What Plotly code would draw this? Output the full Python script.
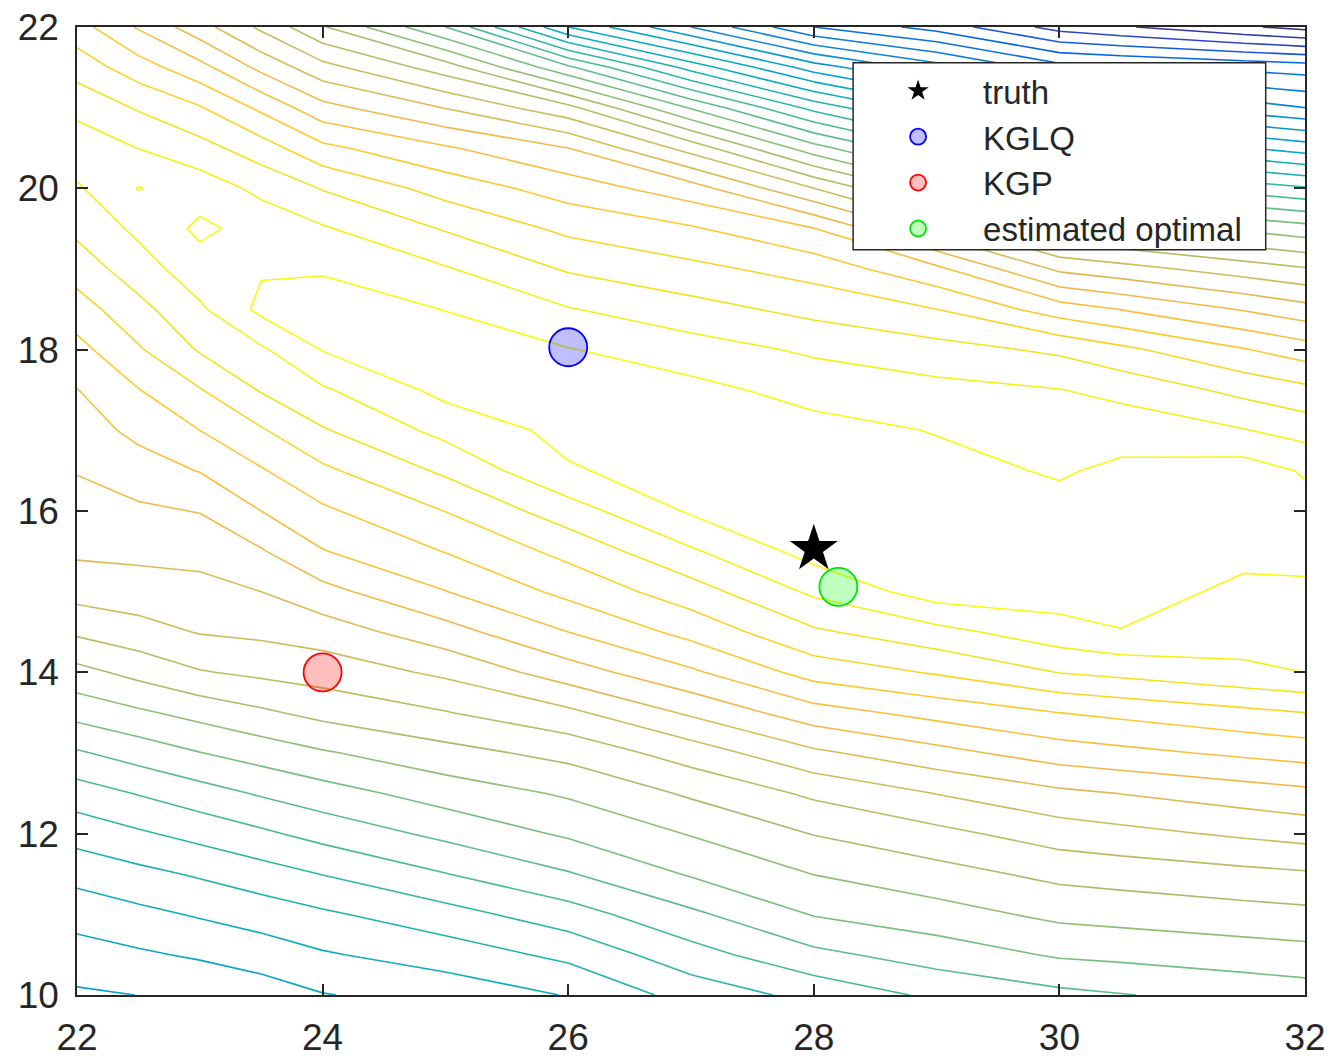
import numpy as np
import plotly.graph_objects as go

# Grid on which the objective surface was sampled
x_grid = [22, 22.5, 23, 23.5, 24, 25, 26, 27, 28, 29, 30, 30.5, 31.5, 32]
y_grid = [10 + 0.5 * i for i in range(25)]

# Objective value at each y_grid row, one list per x_grid column
z_x22 = [10.85, 11.59, 12.39, 13.33, 14.40, 15.53, 16.88, 18.35, 19.68, 21.17,
         22.39, 23.17, 23.61, 24.05, 24.51, 24.97, 25.68, 26.54, 27.45, 28.23,
         28.87, 29.60, 28.71, 27.57, 26.40]
z_x22h = [11.01, 11.86, 12.75, 13.73, 14.86, 16.06, 17.43, 18.84, 20.31, 21.62,
          22.54, 23.25, 23.83, 24.55, 25.26, 25.96, 26.89, 27.69, 28.53, 29.22,
          30.04, 28.98, 27.90, 26.45, 24.90]
z_x23 = [11.17, 12.13, 13.10, 14.12, 15.32, 16.59, 17.97, 19.33, 20.93, 22.06,
         22.68, 23.33, 24.04, 25.04, 26.00, 26.94, 28.10, 28.83, 29.60, 30.20,
         29.55, 28.36, 27.08, 25.33, 23.40]
z_x23h = [11.49, 12.47, 13.46, 14.56, 15.82, 17.11, 18.43, 19.83, 21.21, 22.21,
          23.00, 23.91, 25.00, 25.91, 26.90, 28.08, 28.85, 30.25, 29.90, 29.64,
          28.75, 27.46, 25.79, 23.73, 21.80]
z_x24 = [11.95, 12.90, 13.84, 15.03, 16.34, 17.58, 18.89, 20.30, 21.44, 22.48,
         23.68, 24.95, 25.83, 26.80, 27.91, 28.87, 30.05, 30.40, 29.92, 29.11,
         27.94, 26.24, 24.32, 22.33, 20.10]
z_x25 = [12.40, 13.45, 14.62, 15.97, 17.25, 18.45, 19.65, 20.95, 22.19, 23.60,
         24.97, 26.04, 27.02, 28.18, 29.31, 30.30, 30.40, 29.98, 29.09, 27.92,
         26.59, 25.12, 22.96, 20.50, 17.00]
z_x26 = [13.05, 14.25, 15.56, 16.92, 18.15, 19.13, 20.31, 21.78, 23.52, 25.00,
         26.27, 27.30, 28.54, 29.90, 30.30, 30.45, 30.05, 29.06, 27.89, 26.77,
         25.54, 24.00, 21.30, 17.20, 12.00]
z_x27 = [14.40, 15.60, 16.80, 18.10, 19.06, 20.15, 21.47, 23.16, 24.83, 26.32,
         27.55, 28.86, 30.13, 30.45, 30.45, 30.30, 29.44, 28.37, 27.26, 26.12,
         24.44, 21.60, 17.90, 13.60, 9.00]
z_x28 = [15.30, 16.75, 18.06, 19.02, 20.04, 21.19, 22.80, 24.58, 26.41, 27.84,
         29.19, 30.40, 30.50, 30.50, 30.35, 29.63, 28.84, 27.70, 26.60, 25.04,
         22.00, 18.40, 14.67, 10.50, 6.00]
z_x29 = [16.20, 17.45, 18.60, 19.62, 20.72, 22.03, 23.67, 25.34, 27.10, 28.67,
         30.50, 30.50, 30.45, 30.30, 29.95, 29.30, 28.37, 27.00, 25.23, 22.47,
         19.29, 15.86, 12.23, 8.43, 4.60]
z_x30 = [16.75, 18.12, 19.24, 20.27, 21.48, 22.78, 24.50, 26.00, 28.03, 29.60,
         30.50, 30.40, 30.30, 29.90, 29.46, 29.03, 27.82, 25.50, 22.81, 20.06,
         16.93, 13.60, 9.92, 6.38, 2.60]
z_x30h = [16.95, 18.25, 19.37, 20.42, 21.71, 23.02, 24.73, 26.25, 28.27, 29.95,
          30.50, 30.50, 30.45, 30.20, 29.60, 28.70, 27.24, 24.97, 22.38, 19.65,
          16.48, 13.09, 9.44, 6.17, 2.12]
z_x31h = [17.35, 18.51, 19.62, 20.73, 22.16, 23.50, 25.19, 26.75, 28.77, 29.49,
          29.75, 30.30, 30.50, 30.49, 29.05, 27.71, 26.07, 23.92, 21.53, 18.83,
          15.57, 12.06, 8.48, 5.75, 1.15]
z_x32 = [17.53, 18.64, 19.74, 20.88, 22.38, 23.73, 25.41, 27.00, 29.01, 29.45,
         29.85, 30.25, 30.35, 29.90, 28.61, 27.26, 25.48, 23.38, 21.10, 18.41,
         15.12, 11.54, 8.00, 5.53, 0.67]

# Marked locations
truth_x, truth_y = [28.0], [15.53]
kglq_x, kglq_y = [26.0], [18.03]
kgp_x, kgp_y = [24.0], [14.0]
est_x, est_y = [28.2], [15.06]

z = np.column_stack([z_x22, z_x22h, z_x23, z_x23h, z_x24, z_x25, z_x26, z_x27,
                     z_x28, z_x29, z_x30, z_x30h, z_x31h, z_x32])

# MATLAB parula colormap (sampled)
parula = [
    [0.2081, 0.1663, 0.5292], [0.2123, 0.2138, 0.6270], [0.1959, 0.2645, 0.7279],
    [0.1253, 0.3242, 0.8303], [0.0117, 0.3875, 0.8820], [0.0165, 0.4266, 0.8786],
    [0.0498, 0.4586, 0.8641], [0.0723, 0.4887, 0.8467], [0.0793, 0.5200, 0.8312],
    [0.0641, 0.5570, 0.8240], [0.0343, 0.5966, 0.8199], [0.0239, 0.6287, 0.8038],
    [0.0228, 0.6535, 0.7768], [0.0384, 0.6743, 0.7436], [0.0843, 0.6928, 0.7062],
    [0.1453, 0.7098, 0.6646], [0.2178, 0.7250, 0.6193], [0.3022, 0.7376, 0.5712],
    [0.3953, 0.7459, 0.5244], [0.4871, 0.7491, 0.4840], [0.5709, 0.7485, 0.4494],
    [0.6473, 0.7456, 0.4188], [0.7184, 0.7411, 0.3905], [0.7858, 0.7356, 0.3633],
    [0.8507, 0.7299, 0.3360], [0.9139, 0.7258, 0.3063], [0.9739, 0.7314, 0.2666],
    [0.9990, 0.7653, 0.2164], [0.9880, 0.8066, 0.1794], [0.9697, 0.8481, 0.1475],
    [0.9589, 0.8949, 0.1132], [0.9661, 0.9514, 0.0755], [0.9763, 0.9831, 0.0538],
]
n = len(parula)
colorscale = [[i / (n - 1), "rgb(%d,%d,%d)" % tuple(int(round(c * 255)) for c in rgb)]
              for i, rgb in enumerate(parula)]

fig = go.Figure()

fig.add_trace(go.Contour(
    x=x_grid, y=y_grid, z=z,
    contours=dict(coloring="lines", start=1, end=30, size=1),
    line=dict(width=1.6, smoothing=0),
    colorscale=colorscale,
    showscale=False,
    showlegend=False,
    hoverinfo="skip",
))

fig.add_trace(go.Scatter(
    x=truth_x, y=truth_y, mode="markers", name="truth",
    marker=dict(symbol="star", size=36, color="black", line=dict(width=0)),
))
fig.add_trace(go.Scatter(
    x=kglq_x, y=kglq_y, mode="markers", name="KGLQ",
    marker=dict(symbol="circle", size=38, color="rgba(0,0,255,0.25)",
                line=dict(color="rgb(0,0,255)", width=1.8)),
))
fig.add_trace(go.Scatter(
    x=kgp_x, y=kgp_y, mode="markers", name="KGP",
    marker=dict(symbol="circle", size=38, color="rgba(255,0,0,0.25)",
                line=dict(color="rgb(255,0,0)", width=1.8)),
))
fig.add_trace(go.Scatter(
    x=est_x, y=est_y, mode="markers", name="estimated optimal",
    marker=dict(symbol="circle", size=38, color="rgba(0,255,0,0.25)",
                line=dict(color="rgb(0,230,0)", width=1.8)),
))

axis_style = dict(
    showgrid=False, zeroline=False, automargin=False,
    showline=True, mirror="ticks", linecolor="#262626", linewidth=1.5,
    ticks="inside", ticklen=11, tickwidth=1.5, tickcolor="#262626",
    ticklabelstandoff=9,
    tickfont=dict(family="Liberation Sans, Arial, sans-serif", size=37, color="#262626"),
)

fig.update_xaxes(range=[22, 32], tick0=22, dtick=2, **axis_style)
fig.update_yaxes(range=[10, 22], tick0=10, dtick=2, **axis_style)

# White legend panel with a dark frame
fig.add_shape(
    type="rect", xref="paper", yref="paper",
    x0=0.632, x1=0.968, y0=0.770, y1=0.963,
    fillcolor="white", line=dict(color="#262626", width=1.5), layer="above",
)

fig.update_layout(
    width=1331, height=1059,
    margin=dict(l=77, r=26, t=27, b=64),
    paper_bgcolor="white", plot_bgcolor="white",
    legend=dict(
        x=0.632, y=0.963, xanchor="left", yanchor="top",
        bgcolor="rgba(0,0,0,0)", borderwidth=0,
        font=dict(family="Liberation Sans, Arial, sans-serif", size=33, color="#262626"),
        itemwidth=120,
    ),
)

fig.write_html("out.html")
